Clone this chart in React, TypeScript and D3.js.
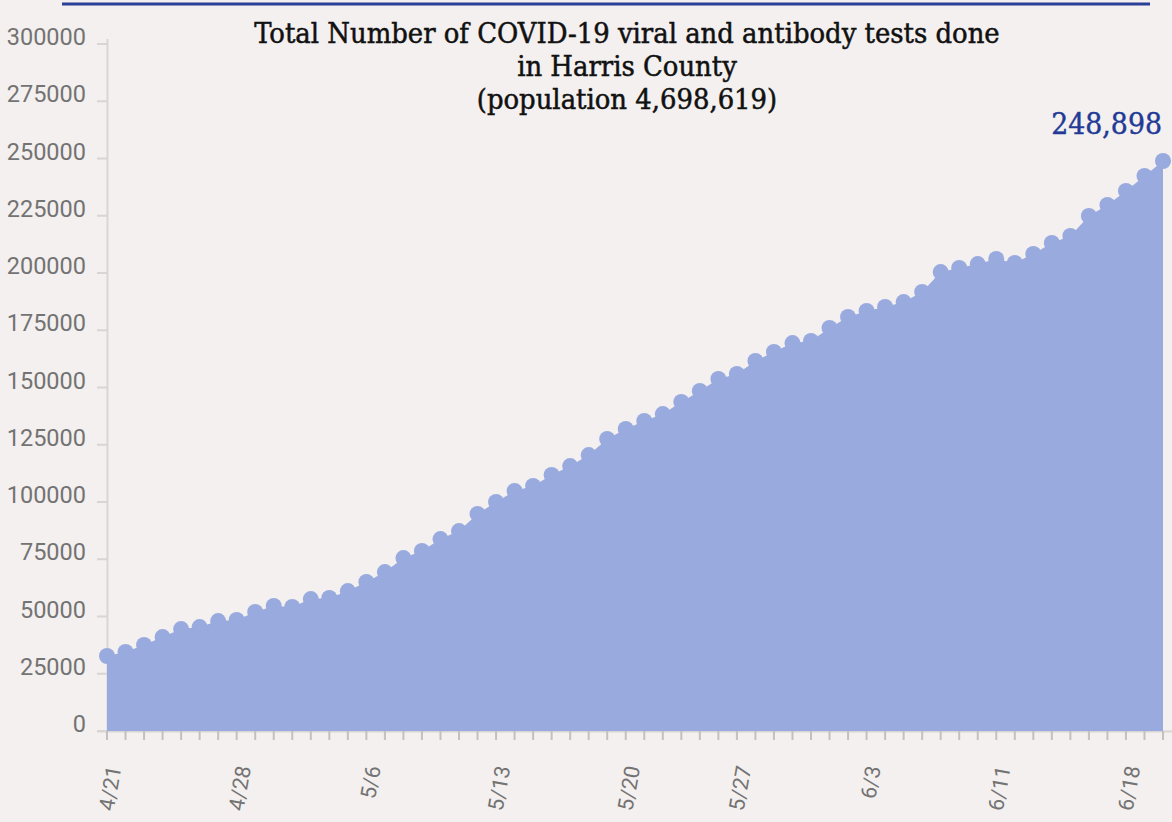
import React from "react";
import * as d3 from "d3";

// fechas de cada punto (faltan algunos días en la fuente)
const dates = [
  "4/21", "4/22", "4/23", "4/24", "4/25", "4/26", "4/27", "4/28",
  "4/29", "4/30", "5/1", "5/2", "5/4", "5/5", "5/6",
  "5/7", "5/8", "5/9", "5/10", "5/11", "5/12", "5/13",
  "5/14", "5/15", "5/16", "5/17", "5/18", "5/19", "5/20",
  "5/21", "5/22", "5/23", "5/24", "5/26", "5/27",
  "5/28", "5/29", "5/30", "5/31", "6/1", "6/2", "6/3",
  "6/4", "6/5", "6/6", "6/8", "6/9", "6/10", "6/11",
  "6/12", "6/13", "6/14", "6/15", "6/16", "6/17", "6/18",
  "6/19", "6/20",
];

const tests = [
  32750, 34500, 37600, 41000, 44500, 45400, 48000, 48500,
  52000, 54600, 54200, 57600, 58100, 61100, 65100,
  69400, 75500, 78600, 83800, 87300, 94800, 100000,
  104800, 107000, 111800, 115700, 120500, 127500, 131900,
  135400, 138400, 143700, 148500, 153700, 155900,
  161600, 165500, 169400, 170300, 176000, 180800, 183400,
  185200, 187300, 191700, 200400, 202200, 203900, 206100,
  204400, 208300, 213100, 216200, 224900, 229700, 235800,
  242400, 248898,
];

const tickDates = ["4/21", "4/28", "5/6", "5/13", "5/20", "5/27", "6/3", "6/11", "6/18"];
const yTicks = d3.range(0, 300001, 25000);

const titleLines = [
  "Total Number of COVID-19 viral and antibody tests done",
  "in Harris County",
  "(population 4,698,619)",
];

const W = 1172;
const H = 822;
const serif = "'DejaVu Serif Condensed', 'DejaVu Serif', serif";
const sans = "Roboto, 'Noto Sans', sans-serif";
const fill = "#99aadf";

export default function App() {
  const x = d3.scalePoint<string>().domain(dates).range([107, 1163]);
  const y = d3.scaleLinear().domain([0, 300000]).range([731, 44]);

  const puntos = dates.map((d, i) => ({ d, v: tests[i] }));
  const area = d3
    .area<{ d: string; v: number }>()
    .x((p) => x(p.d) as number)
    .y0(y(0))
    .y1((p) => y(p.v));

  const last = puntos[puntos.length - 1];

  return (
    <div style={{ position: "absolute", left: 0, top: 0 }}>
      <svg width={W} height={H} style={{ display: "block" }}>
        <rect width={W} height={H} fill="#f3f0ef" />
        <line x1={62} x2={1150} y1={4} y2={4} stroke="#2a3f98" strokeWidth={3} />

        {/* eje y */}
        <line x1={107.5} x2={107.5} y1={39} y2={731} stroke="#d9d5d4" strokeWidth={2} />
        {yTicks.map((t) => (
          <g key={t}>
            <line x1={97} x2={107} y1={y(t)} y2={y(t)} stroke="#d9d5d4" strokeWidth={2} />
            <text
              x={86}
              y={y(t) + 1}
              textAnchor="end"
              fontFamily={sans}
              fontSize={23.5}
              fill="#737373"
            >
              {t}
            </text>
          </g>
        ))}

        {/* eje x */}
        <line x1={97} x2={W} y1={731.5} y2={731.5} stroke="#d9d5d4" strokeWidth={2} />
        {dates.map((d) => (
          <line
            key={d}
            x1={x(d)}
            x2={x(d)}
            y1={731}
            y2={740}
            stroke="#c4c0bf"
            strokeWidth={2}
          />
        ))}
        {tickDates.map((d) => (
          <text
            key={d}
            transform={`translate(${(x(d) as number) + 7},766) rotate(-80)`}
            textAnchor="end"
            dominantBaseline="central"
            fontFamily={sans}
            fontSize={21.5}
            fill="#737373"
          >
            {d}
          </text>
        ))}

        <path d={area(puntos) ?? ""} fill={fill} />
        {puntos.map((p) => (
          <circle key={p.d} cx={x(p.d)} cy={y(p.v)} r={8} fill={fill} />
        ))}

        {titleLines.map((l, i) => (
          <text
            key={l}
            x={627}
            y={43 + i * 33}
            textAnchor="middle"
            fontFamily={serif}
            fontSize={28.8}
            fill="#111"
            stroke="#111"
            strokeWidth={0.5}
          >
            {l}
          </text>
        ))}

        <text
          x={1162}
          y={134}
          textAnchor="end"
          fontFamily={serif}
          fontSize={29.8}
          fill="#223a96"
          stroke="#223a96"
          strokeWidth={0.4}
        >
          {d3.format(",")(last.v)}
        </text>
      </svg>
    </div>
  );
}
